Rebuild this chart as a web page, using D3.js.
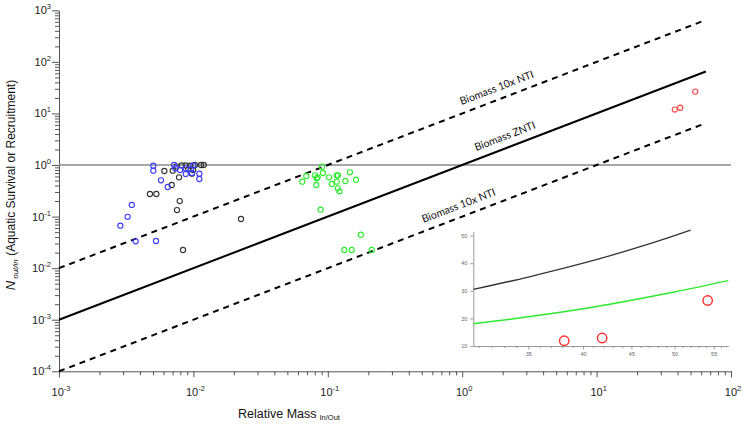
<!DOCTYPE html>
<html lang="en">
<head>
<meta charset="utf-8">
<title>Relative mass vs N out/in</title>
<script src="https://cdn.jsdelivr.net/npm/d3@7"></script>
<style>
  body { margin: 0; background: #fff; }
  svg { display: block; font-family: "Liberation Sans", Arial, sans-serif; }
</style>
</head>
<body>
<script>
// ---- data ----
var bluePts = [[0.00503,0.97],[0.00503,0.775],[0.00574,0.505],[0.00644,0.375],[0.00348,0.168],
  [0.00324,0.099],[0.00286,0.0665],[0.00372,0.0332],[0.00527,0.0336],[0.00718,1.0],[0.00735,0.86],
  [0.00795,0.80],[0.00877,0.669],[0.0096,0.836],[0.00976,0.70],[0.01107,0.678],[0.01107,0.535],
  [0.00997,0.98],[0.00877,0.86]];
var blackPts = [[0.00475,0.274],[0.0053,0.274],[0.00608,0.765],[0.0069,0.41],[0.00782,0.577],
  [0.00791,0.2],[0.00755,0.134],[0.00837,0.0225],[0.0226,0.0897],[0.00702,0.775],[0.00749,0.94],
  [0.00819,0.98],[0.00877,0.98],[0.00944,0.97],[0.01028,1.0],[0.0114,1.0],[0.01194,1.0],
  [0.00976,0.68],[0.00997,0.80],[0.00916,0.825]];
var greenPts = [[0.0646,0.475],[0.0692,0.612],[0.0803,0.63],[0.0826,0.552],[0.084,0.577],
  [0.0822,0.41],[0.0906,0.93],[0.092,0.70],[0.0885,0.136],[0.102,0.577],[0.107,0.428],
  [0.1165,0.63],[0.119,0.63],[0.1165,0.475],[0.1186,0.353],[0.122,0.309],[0.135,0.49],
  [0.146,0.722],[0.162,0.519],[0.176,0.0445],[0.1327,0.0225],[0.1507,0.0225],[0.212,0.0225]];
var redPts = [[38.2,11.9],[41.9,12.9],[54.2,26.5]];

// reference lines (log-log straight)
var zntiLine = [[0.001,0.001],[65,65]];
var upperLine = [[0.001,0.01],[65,650]];
var lowerLine = [[0.001,0.0001],[63,6.3]];
var unityLine = [[0.001,1],[100,1]];
var lineLabels = [
  {text: "Biomass 10x NTI", x: 1.94, line: upperLine},
  {text: "Biomass ZNTI", x: 2.23, line: zntiLine},
  {text: "Biomass 10x NTI", x: 1.01, line: lowerLine}
];

// inset curves
var insetBlack = [[30.6,30.5],[35,35],[40,40],[45,45],[50,50],[52,52]];
var insetGreen = [[30.6,18.1],[35,20.6],[40,23.5],[45,26.6],[50,29.6],[57,33.7]];

var xMajor = [1e-3,1e-2,1e-1,1,10,100];
var xExp = ["-3","-2","-1","0","1","2"];
var yMajor = [1e-4,1e-3,1e-2,1e-1,1,10,100,1000];
var yExp = ["-4","-3","-2","-1","0","1","2","3"];
var insetXTicks = [35,40,45,50,55];
var insetYTicks = [10,20,30,40,50];

// ---- layout ----
var W = 743, H = 425;
var x = d3.scaleLog().domain([1e-3, 1e2]).range([59, 731]);
var y = d3.scaleLog().domain([1e-4, 1e3]).range([371.3, 10.3]);

var svg = d3.select("body").append("svg")
  .attr("width", W).attr("height", H);

function isMajor(v) {
  var l = Math.log10(v);
  return Math.abs(l - Math.round(l)) < 1e-6;
}

// y axis
var yAxis = d3.axisLeft(y).tickValues(y.ticks()).tickFormat(function() { return ""; })
  .tickSize(4).tickSizeOuter(0);
var gy = svg.append("g").attr("transform", "translate(59,0)").call(yAxis);
gy.selectAll(".tick line").attr("x2", function(d) { return isMajor(d) ? -7 : -4; });
gy.selectAll("path, line").attr("stroke", "#555");

yMajor.forEach(function(v, i) {
  var t = svg.append("text").attr("x", 51).attr("y", y(v) + 4)
    .attr("text-anchor", "end").attr("font-size", 11).attr("fill", "#222");
  t.append("tspan").text("10");
  t.append("tspan").attr("font-size", 7.5).attr("dy", -5).text(yExp[i]);
});

// x axis
var xAxis = d3.axisBottom(x).tickValues(x.ticks()).tickFormat(function() { return ""; })
  .tickSize(4).tickSizeOuter(0);
var gx = svg.append("g").attr("transform", "translate(0,371.3)").call(xAxis);
gx.selectAll(".tick line").attr("y2", function(d) { return isMajor(d) ? 6 : 4; });
gx.selectAll("path, line").attr("stroke", "#555");

xMajor.forEach(function(v, i) {
  var t = svg.append("text").attr("x", x(v) + 2).attr("y", 396)
    .attr("text-anchor", "middle").attr("font-size", 11).attr("fill", "#222");
  t.append("tspan").text("10");
  t.append("tspan").attr("font-size", 7.5).attr("dy", -5).text(xExp[i]);
});

// axis titles
var xt = svg.append("text").attr("x", 238).attr("y", 418)
  .attr("font-size", 12.5).attr("fill", "#111");
xt.append("tspan").text("Relative Mass");
xt.append("tspan").attr("font-size", 7.5).attr("dx", 3).attr("dy", 2).text("In/Out");

var yt = svg.append("text").attr("transform", "translate(15,185) rotate(-90)")
  .attr("text-anchor", "middle").attr("font-size", 12).attr("fill", "#111");
yt.append("tspan").attr("font-style", "italic").attr("font-size", 13).text("N");
yt.append("tspan").attr("font-style", "italic").attr("font-size", 8).attr("dx", 2).attr("dy", 3).text("out/in");
yt.append("tspan").attr("dy", -3).text(" (Aquatic Survival or Recruitment)");

// lines
var line = d3.line().x(function(d) { return x(d[0]); }).y(function(d) { return y(d[1]); });

svg.append("path").datum(unityLine).attr("d", line)
  .attr("fill", "none").attr("stroke", "#8a8a8a").attr("stroke-width", 1.5);
svg.append("path").datum(zntiLine).attr("d", line)
  .attr("fill", "none").attr("stroke", "#000").attr("stroke-width", 2);
[upperLine, lowerLine].forEach(function(l) {
  svg.append("path").datum(l).attr("d", line)
    .attr("fill", "none").attr("stroke", "#000").attr("stroke-width", 2)
    .attr("stroke-dasharray", "6,5");
});

var angle = -Math.atan2(y(1) - y(10), x(10) - x(1)) * 180 / Math.PI;
lineLabels.forEach(function(lb) {
  var l0 = lb.line[0], l1 = lb.line[1];
  var slope = Math.log10(l1[1] / l0[1]) / Math.log10(l1[0] / l0[0]);
  var yv = l0[1] * Math.pow(lb.x / l0[0], slope);
  svg.append("text")
    .attr("transform", "translate(" + x(lb.x) + "," + y(yv) + ") rotate(" + angle + ")")
    .attr("y", -8).attr("text-anchor", "middle")
    .attr("font-family", "Lato, 'Open Sans', sans-serif").attr("font-size", 10.5)
    .attr("fill", "#111").text(lb.text);
});

// points
function drawPts(pts, color) {
  svg.append("g").selectAll("circle").data(pts).enter().append("circle")
    .attr("cx", function(d) { return x(d[0]); })
    .attr("cy", function(d) { return y(d[1]); })
    .attr("r", 2.6).attr("fill", "none")
    .attr("stroke", color).attr("stroke-width", 1.1);
}
drawPts(blackPts, "#333333");
drawPts(bluePts, "#3c3cff");
drawPts(greenPts, "#2eea2e");
drawPts(redPts, "#ff4a4a");

// ---- inset ----
var ix = d3.scaleLog().domain([30.6, 57]).range([473.3, 728.3]);
var iy = d3.scaleLinear().domain([10, 51.5]).range([346, 231.5]);
var inset = svg.append("g");

var iyAxis = d3.axisLeft(iy).tickValues(insetYTicks).tickSize(3).tickSizeOuter(0)
  .tickFormat(d3.format("d"));
var giy = inset.append("g").attr("transform", "translate(473.3,0)").call(iyAxis);
giy.selectAll("path, line").attr("stroke", "#999");
giy.selectAll("text").attr("font-size", 5.5).attr("fill", "#666");

var ixAxis = d3.axisBottom(ix).tickValues(d3.range(31, 57)).tickSize(2).tickSizeOuter(0)
  .tickFormat(function(d) { return insetXTicks.indexOf(d) >= 0 ? d : ""; });
var gix = inset.append("g").attr("transform", "translate(0,346)").call(ixAxis);
gix.selectAll(".tick line").attr("y2", function(d) { return insetXTicks.indexOf(d) >= 0 ? 3.5 : 2; });
gix.selectAll("path, line").attr("stroke", "#999");
gix.selectAll("text").attr("font-size", 5.5).attr("fill", "#666").attr("dy", "0.9em");

var iline = d3.line().curve(d3.curveMonotoneX)
  .x(function(d) { return ix(d[0]); }).y(function(d) { return iy(d[1]); });
inset.append("path").datum(insetBlack).attr("d", iline)
  .attr("fill", "none").attr("stroke", "#333").attr("stroke-width", 1.3);
inset.append("path").datum(insetGreen).attr("d", iline)
  .attr("fill", "none").attr("stroke", "#2eea2e").attr("stroke-width", 1.5);
inset.selectAll("circle.red").data(redPts).enter().append("circle")
  .attr("cx", function(d) { return ix(d[0]); })
  .attr("cy", function(d) { return iy(d[1]); })
  .attr("r", 4.7).attr("fill", "none")
  .attr("stroke", "#ff2a2a").attr("stroke-width", 1.4);
</script>
</body>
</html>
